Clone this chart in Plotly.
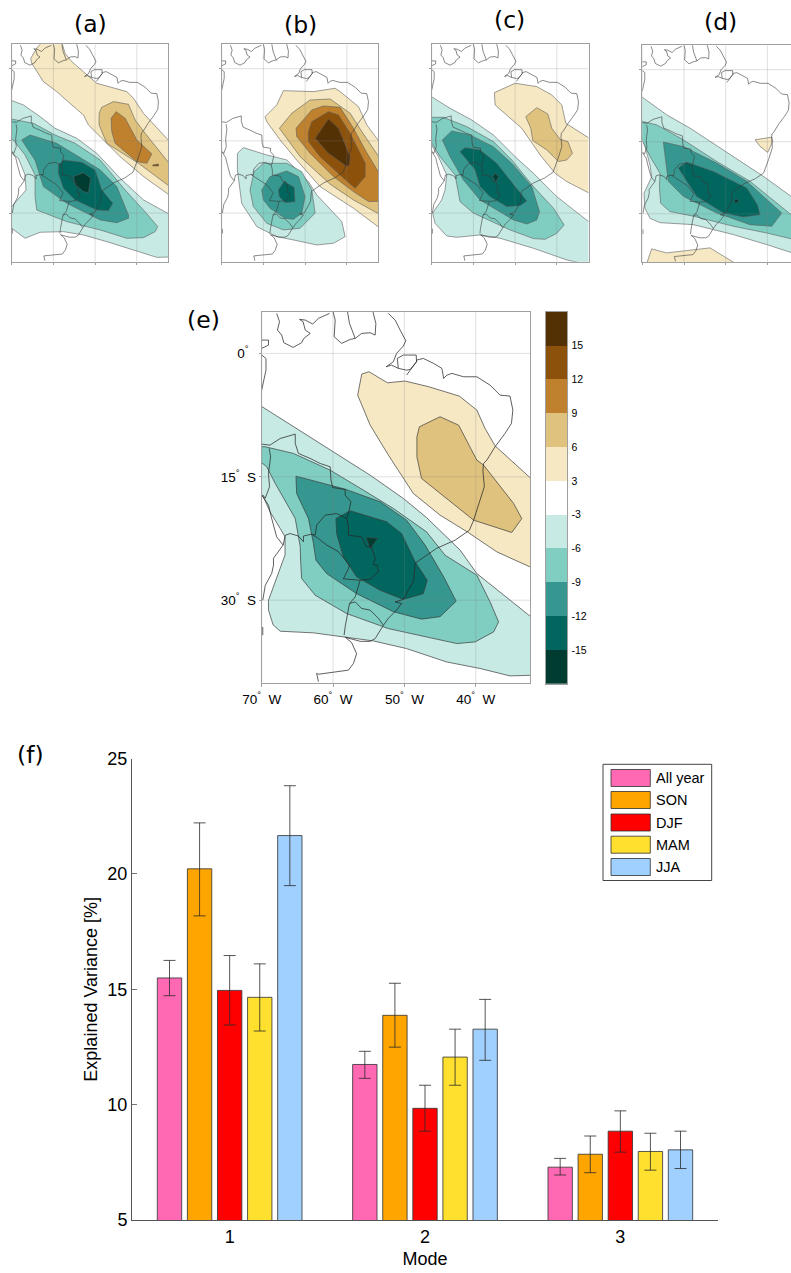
import plotly.graph_objects as go

FIG_W, FIG_H = 791, 1273

# ---- bar chart data
MODES = [1, 2, 3]
SEASONS = ["All year", "SON", "DJF", "MAM", "JJA"]
SEASON_COLORS = ["#ff69b4", "#ffa500", "#ff0000", "#ffe02e", "#a0d0ff"]
ALL_YEAR = [15.49, 11.74, 7.29]
ALL_YEAR_HI = [16.25, 12.31, 7.67]
ALL_YEAR_LO = [14.72, 11.14, 6.95]
SON = [20.22, 13.87, 7.85]
SON_HI = [22.21, 15.26, 8.64]
SON_LO = [18.18, 12.49, 7.05]
DJF = [14.95, 9.84, 8.85]
DJF_HI = [16.46, 10.84, 9.73]
DJF_LO = [13.45, 8.85, 7.94]
MAM = [14.65, 12.06, 7.97]
MAM_HI = [16.1, 13.27, 8.76]
MAM_LO = [13.19, 10.84, 7.16]
JJA = [21.66, 13.27, 8.04]
JJA_HI = [23.82, 14.56, 8.85]
JJA_LO = [19.49, 11.92, 7.23]

# ---- colour classes
LEVEL_COLORS = {15: "#543005", 12: "#8c510a", 9: "#bf812d", 6: "#dfc27d", 3: "#f6e8c3",
                -3: "#c7eae5", -6: "#80cdc1", -9: "#35978f", -12: "#01665e", -15: "#003c30"}
CBAR_COLORS = ["#003c30", "#01665e", "#35978f", "#80cdc1", "#c7eae5", "#ffffff",
               "#f6e8c3", "#dfc27d", "#bf812d", "#8c510a", "#543005"]
CBAR_TICKS = ["-15", "-12", "-9", "-6", "-3", "3", "6", "9", "12", "15"]

GRID_LON = [-70, -60, -50, -40]
GRID_LAT = [0, -15, -30]
LON_LABELS = ["70<sup>°</sup>  W", "60<sup>°</sup>  W", "50<sup>°</sup>  W", "40<sup>°</sup>  W"]
LAT_LABELS = ["0<sup>°</sup>  ", "15<sup>°</sup>  S", "30<sup>°</sup>  S"]

# ---- coast and borders (lon, lat)
COAST_N1 = [(-67.9,4.86),(-67.5,3.85),(-67.8,2.84),(-67.2,2.23),(-66.9,1.3),(-65.6,.73),(-64.4,1.3),(-64.1,1.82),(-63.2,2.43),(-63.9,2.84),(-64.2,3.85),(-64.7,4.14),(-63.9,4.05),(-62.85,3.57),(-62.05,4.26),(-60.5,4.86)]
COAST_N2 = [(-60.05,5.2),(-59.7,4.05),(-59.85,2.03),(-58.8,1.22),(-57.6,1.7),(-56.9,1.82),(-56,2.43),(-54.8,2.51),(-54.1,2.23),(-54,3.65),(-54.45,5.2)]
COAST_N3 = [(-58,5.2),(-57.7,3.65),(-56.9,1.82)]
COAST_MAIN = [(-52.25,4.86),(-51.3,4.05),(-50.6,2.84),(-49.8,1.54),(-50.15,.89),(-51.1,0),(-51.55,-1.01),(-52.55,-1.62),(-51.8,-1.42),(-50.85,-1.82),(-49.7,-2.03),(-49.2,-1.95),(-48.3,-1.01),(-48.3,-.81),(-47.35,-.61),(-45.9,-1.22),(-44.75,-1.82),(-44.5,-3.04),(-44.05,-2.64),(-43.35,-2.43),(-41.7,-2.84),(-39.85,-2.84),(-38,-3.85),(-36.6,-5.07),(-35.2,-5.19),(-34.8,-6.89),(-35,-8.51),(-35.9,-9.73),(-37.3,-11.35),(-38.45,-12.97),(-38.9,-13.38),(-39,-14.19),(-38.8,-16.2),(-39.7,-18.65),(-40.3,-20.27),(-40.9,-21.5),(-42.9,-22.7),(-45.5,-23.7),(-48.5,-25.5),(-48.7,-27.6),(-49.7,-29.2),(-50.15,-29.9),(-51.3,-30.2),(-50.4,-30.4),(-51.1,-31.2),(-52.25,-32.2),(-52.95,-33.05),(-54.1,-34.66),(-54.8,-35),(-56.2,-35),(-58.3,-34.5),(-57.4,-35.15),(-56.7,-36.5),(-57.15,-37.7),(-57.85,-38.5),(-62.05,-39),(-62.3,-38.9),(-62.05,-39.9)]
COAST_DELTA = [(-50.85,-1.82),(-51,-.61),(-50.15,-.2),(-48.35,-.2),(-48.3,-1.01),(-49.7,-2.64)]
COAST_WEST = [(-70,-17.2),(-69.05,-18.45),(-68.6,-20.07),(-67.9,-22.3),(-67,-23.3),(-68.35,-24.9),(-68.35,-25.75),(-68.6,-26.75),(-69.5,-28.2),(-69.85,-30)]
COAST_BIT1 = [(-69.85,-33.25),(-69.85,-34.25)]
COAST_BIT2 = [(-70,1.62),(-69.05,1.62),(-69.05,1.01),(-70,.61)]
COAST_BIT3 = [(-70,-.2),(-69.4,-.61),(-69.4,-2.03),(-70,-4.46)]
BORDER_BRAZIL = [(-70,-11.03),(-68.85,-11.15),(-67.4,-10.34),(-65.3,-9.81),(-65.3,-10.95),(-64.85,-12.16),(-63.2,-12.77),(-61.8,-13.38),(-60.4,-13.78),(-60.3,-15.4),(-60.05,-16.3),(-58.3,-16.54),(-58.3,-17.23),(-57.5,-18.04),(-57.85,-19.46),(-58.1,-20.07),(-57.85,-21.08),(-57.85,-22.1),(-56,-22.3),(-55.3,-23.5),(-54.6,-23.5),(-54.1,-24.9),(-54.35,-25.66),(-53.8,-25.74),(-53.65,-26.55),(-54.8,-27.45),(-56.2,-27.57),(-56.9,-29.6),(-57.7,-30.4),(-58,-31.6),(-58.3,-33.2),(-58.45,-34.25)]
BORDER_PERU = [(-68.95,-11.55),(-68.75,-12.57),(-69.05,-14.6),(-68.9,-16.2),(-69.5,-17.6),(-69.85,-17.2)]
BORDER_ANDES = [(-67,-23.3),(-66.7,-22.1),(-66,-21.9),(-64.85,-22.2),(-64.15,-22.9),(-64.15,-22.2),(-63,-21.97),(-62.05,-22.5),(-60.9,-23.3),(-59.25,-24.1),(-58.55,-24.85),(-57.7,-25.74),(-57.85,-26.15),(-58.55,-27.4),(-56.2,-27.57)]
BORDER_PARAGUAY = [(-58.1,-20.07),(-59.5,-19.46),(-61.1,-19.66),(-62.3,-20.87),(-62.5,-22.1),(-63,-21.97)]
BORDER_URUGUAY = [(-57.7,-30.4),(-56.9,-30.2),(-56,-31),(-54.8,-31.2),(-53.65,-32.2),(-52.95,-33.05)]

# ---- panel (a) contours (lon, lat)
A_P3 = [(-65.44,2.16),(-64,4.24),(-62.8,5.5),(-58,5.5),(-57.2,3.2),(-55.6,1.47),(-49.6,-3.03),(-42.4,-4.76),(-40.8,-6.15),(-38.4,-9.26),(-31,-16.2),(-31,-27),(-38.4,-22.4),(-44,-18.27),(-51.6,-11.69),(-52.8,-9.61),(-55.6,-7.53),(-59.2,-4.76),(-62.4,-2.69),(-65.2,1.12)]
A_P6 = [(-48.4,-8.02),(-45.6,-6.84),(-42,-7.4),(-40.4,-10.65),(-38,-13.42),(-31,-21),(-31,-25.2),(-39.6,-19.65),(-47.2,-15.5),(-49.04,-11.69),(-49.04,-9.26)]
A_P9 = [(-46.16,-10.3),(-44.96,-8.92),(-42.8,-10.3),(-40,-14.8),(-36.4,-17.7),(-37.6,-19.65),(-40,-19.3),(-45.2,-15.5),(-46,-13.07)]
A_P12 = [(-36.16,-20),(-34.8,-19.8),(-34.8,-20.2),(-36.16,-20.2)]
A_N3 = [(-71,-6.3),(-67.2,-7.53),(-63.2,-9.95),(-59.6,-12.38),(-54.4,-14.46),(-49.6,-17.57),(-44,-22.77),(-38.4,-27.27),(-31,-30.8),(-31,-39.1),(-35.2,-39.2),(-40.8,-37.66),(-47.2,-35.93),(-52.8,-34.54),(-57.6,-33.85),(-63.2,-33.99),(-66.8,-35.23),(-71,-32.5),(-71,-28),(-70,-28.65),(-66.56,-25.2),(-66.8,-22.08),(-68.4,-18.6),(-71,-17)]
A_N6 = [(-71,-10.3),(-64.8,-11.34),(-59.6,-13.77),(-54.8,-15.5),(-48.8,-18.96),(-42.8,-25.2),(-38.4,-29.35),(-35,-32.8),(-35.6,-33.85),(-38.4,-35.1),(-42.4,-35.23),(-48.8,-33.5),(-56.8,-31.77),(-64,-29.35),(-64.4,-26.58),(-64.4,-22.08),(-66.8,-17.92),(-69.6,-14.8),(-71,-13.8)]
A_N9 = [(-67.6,-14.8),(-65.6,-13.77),(-59.2,-15.5),(-54,-18.27),(-48.8,-21),(-44.8,-24.5),(-42,-30.4),(-42,-31.08),(-44.8,-32),(-48.8,-31.42),(-56.8,-27.96),(-62.4,-24.5),(-63.2,-22.08),(-64.4,-19)]
A_N12 = [(-58.8,-20),(-57.6,-18.96),(-53.2,-19.44),(-50,-21.04),(-48.4,-25.2),(-45.76,-27.96),(-46.8,-29.5),(-49.6,-29.35),(-54.8,-27.27),(-57.6,-24.85),(-58.8,-21.73)]
A_N15 = [(-55.2,-22.42),(-52.8,-21.6),(-51.04,-22.77),(-51.6,-25.75),(-52.8,-25.54),(-54.8,-24.04)]

# ---- panel (b)
B_P3 = [(-59.6,-9.96),(-56.8,-7.53),(-55.2,-4.56),(-48,-4.76),(-42.8,-4.07),(-41.6,-4.76),(-37.2,-7.88),(-35.2,-11.69),(-31,-16.6),(-31,-33.8),(-38.4,-29),(-46.4,-24.5),(-52,-19),(-56,-14.8),(-59.2,-11)]
B_P6 = [(-56.16,-12.38),(-53.2,-9.26),(-48.8,-6.5),(-44,-6.29),(-39.2,-9.26),(-36.4,-13.07),(-31,-20),(-31,-30.8),(-38.4,-27.27),(-44,-24),(-51.2,-18.27)]
B_P9 = [(-52.16,-12.38),(-48.4,-8.57),(-45.6,-7.74),(-41.6,-8.02),(-38.4,-12.38),(-35.6,-16.88),(-31,-23.5),(-31,-27.5),(-34.8,-27.6),(-38.4,-25.54),(-43.2,-22.42),(-48.8,-17.57),(-52,-14.11)]
B_P12 = [(-49.2,-13.07),(-48.4,-11),(-44.4,-8.92),(-42,-9.61),(-39.2,-13.42),(-35.6,-19.65),(-35.6,-22.42),(-38,-24.85),(-41.2,-22.42),(-46.4,-18.27),(-49.2,-15.15)]
B_P15 = [(-47.6,-14.46),(-44.4,-10.44),(-42,-12.38),(-39.2,-18.27),(-39.36,-20),(-40,-20.34),(-44.4,-17.57)]
B_N3 = [(-66.24,-17.57),(-64.8,-16.4),(-59.2,-17.92),(-54.4,-18.96),(-49.2,-23.46),(-47.2,-26.23),(-41.2,-31.77),(-40.4,-34.89),(-43.2,-36.27),(-47.2,-36.62),(-52.8,-35.58),(-56.8,-34.89),(-61.6,-32.8),(-65.2,-28),(-66.24,-21.04)]
B_N6 = [(-62.24,-21.4),(-60,-19.65),(-54.4,-19.65),(-50.8,-21.4),(-48.4,-25.2),(-47.6,-30),(-51.2,-33.15),(-55.2,-33.5),(-59.2,-32.12),(-62.4,-28.65),(-63.2,-25.2)]
B_N9 = [(-60.4,-25.2),(-58.4,-22.42),(-54.4,-21.24),(-51.6,-22.42),(-50,-26.58),(-50.8,-30),(-52.8,-31.3),(-54.8,-31.08),(-58.4,-29),(-60,-27.27)]
B_N12 = [(-56.4,-25.2),(-55.04,-23.46),(-52.64,-24.64),(-52.4,-27.62),(-54.8,-27.83),(-56.16,-26.58)]

# ---- panel (c)
C_P3 = [(-54.96,-4.97),(-50,-3.03),(-44.8,-3.72),(-41.2,-5.46),(-38.8,-7.53),(-37.84,-11.34),(-31,-15.1),(-31,-26.4),(-37.6,-23.46),(-40.4,-21.73),(-44,-17.92),(-48.4,-12.38),(-54.8,-7.53)]
C_P6 = [(-47.44,-9.96),(-44.8,-8.09),(-42.16,-9.4),(-41.2,-12.38),(-39.2,-14.67),(-37.36,-15.15),(-36.24,-17.57),(-37.6,-18.96),(-39.6,-19.3),(-42.4,-16.88),(-45.76,-14.94),(-46.24,-12.38)]
C_N3 = [(-71,-5.3),(-65.6,-8.23),(-60.4,-10.65),(-55.2,-13.77),(-50,-18.27),(-45.6,-21.73),(-40,-26.58),(-31,-32.7),(-31,-41),(-37.6,-39.73),(-45.6,-37.31),(-53.6,-35.23),(-58.4,-34.54),(-64,-35.03),(-66.4,-34.75),(-69.2,-32.12),(-69.76,-30),(-67.6,-27.27),(-66.8,-25.2),(-66.4,-22.08),(-68.4,-18.27),(-71,-14.4)]
C_N6 = [(-71,-10.1),(-67.2,-10.1),(-61.6,-12.03),(-55.2,-15.15),(-50.8,-18.96),(-45.6,-24.5),(-40.8,-29),(-38.24,-32.46),(-40,-34.2),(-42.8,-35.44),(-45.6,-35.3),(-51.2,-33.5),(-60,-30),(-63.2,-27.62),(-64.4,-22.08),(-68,-18.27),(-71,-14)]
C_N9 = [(-67.44,-14.8),(-65.2,-12.94),(-60.8,-13.77),(-55.2,-16.2),(-50.4,-20),(-46,-24.5),(-44.16,-29.69),(-44.8,-31.42),(-47.2,-32.26),(-50.4,-31.42),(-58.4,-27.27),(-62.4,-23.1),(-65.6,-18.27)]
C_N12 = [(-63.2,-17.23),(-62,-16.4),(-58.4,-16.88),(-54.4,-19.65),(-50,-24.5),(-47.2,-27.48),(-48.8,-28.45),(-52,-28.65),(-56,-26.58),(-58.4,-24.5),(-59.6,-21),(-62,-18.6)]
C_N15 = [(-55.36,-22.42),(-54.8,-21.73),(-53.92,-22.42),(-54.64,-23.6)]

# ---- panel (d)
D_P3A = [(-42.96,-14.6),(-38.96,-14.04),(-38.72,-14.94),(-39.92,-17.23),(-41.76,-15.98)]
D_P3B = [(-69.2,-41),(-67.76,-37.31),(-64.16,-38.14),(-56.16,-37.31),(-53.76,-37.1),(-46.4,-41)]
D_N3 = [(-71,-5.1),(-64.16,-9.4),(-58.56,-12.17),(-48.16,-18.06),(-40.96,-22.21),(-34.32,-26.37),(-31,-28.8),(-31,-39),(-40.16,-36.41),(-48.16,-34.33),(-57.76,-32.26),(-65.75,-31.85),(-68.15,-30.95),(-69.35,-28.85),(-69.6,-25.75),(-67.75,-22.3),(-68.15,-19.85),(-69.9,-14.3),(-71,-13)]
D_N6 = [(-71,-10.3),(-70,-10.79),(-66.56,-11.48),(-60.16,-14.6),(-52.16,-19.1),(-44.16,-23.25),(-34.32,-30.18),(-31,-32.5),(-31,-35.9),(-40.16,-34),(-48.16,-32.6),(-57.76,-30.5),(-63.35,-29.55),(-65.6,-27.8),(-65.9,-24.4),(-65.75,-21.6),(-68.16,-18.06),(-71,-13)]
D_N9 = [(-64.96,-15.08),(-60.16,-16),(-52.16,-19.44),(-44.96,-23.25),(-36.56,-29.83),(-38.96,-32.6),(-44.16,-32.26),(-52.16,-29.83),(-60.16,-26.37),(-63.76,-23.25)]
D_N12 = [(-61.36,-20.48),(-59.36,-19.24),(-52.96,-21.18),(-44.96,-24.64),(-42.4,-28.1),(-41.76,-30.18),(-45.76,-30.66),(-50.56,-29.83),(-57,-26.37),(-60.16,-22.21)]
D_N15 = [(-48.16,-27.34),(-47.36,-26.92),(-46.72,-27.34),(-47.52,-27.82)]

# ---- panel (e)
E_P3 = [(-55.98,-2.51),(-54.95,-2.23),(-52.38,-3.57),(-49.9,-3.36),(-46.6,-4.05),(-42.3,-5.19),(-39.85,-6.89),(-38.7,-9.12),(-37.3,-11.23),(-31,-16.2),(-31,-26.5),(-37.05,-24.12),(-41.2,-21.69),(-45,-19.66),(-48.75,-17.03),(-52.25,-12.36),(-54.8,-8.72),(-56.55,-5.07)]
E_P6 = [(-47.9,-8.92),(-45,-7.7),(-42.4,-8.72),(-40.8,-11.35),(-39.85,-12.97),(-38.9,-13.58),(-34.7,-18.24),(-33.55,-20.07),(-34.95,-21.77),(-40.3,-20.27),(-47.6,-15.2),(-48.25,-12.57),(-48.25,-10.14)]
E_N3 = [(-71,-5.9),(-64.85,-9.32),(-59.95,-11.96),(-54.8,-14.8),(-50.15,-17.63),(-46.9,-19.95),(-42.2,-23.9),(-39.85,-26.76),(-31,-32.9),(-31,-39.1),(-35.2,-39.2),(-39.4,-38.3),(-44.1,-37.5),(-49.7,-35.88),(-54.35,-34.95),(-58.55,-34.46),(-62.75,-33.97),(-67.4,-33.77),(-68.4,-33),(-69.05,-31.2),(-69.05,-30),(-66.73,-24.5),(-66.73,-22.3),(-67.4,-21.3),(-68.83,-19.26),(-69.77,-17.43),(-71,-16.6)]
E_N6 = [(-71,-11.35),(-69.5,-11.35),(-65.55,-12.16),(-60.4,-14.19),(-55.75,-16.62),(-51.55,-18.85),(-46.9,-21.69),(-44.3,-24.53),(-39.85,-26.96),(-38,-30.2),(-36.8,-32.63),(-37.5,-33.85),(-40.1,-35.07),(-42.65,-35.27),(-52.25,-33.45),(-58.1,-31.62),(-62.5,-29.4),(-64.4,-27.36),(-64.55,-25.13),(-64.6,-23.5),(-65.3,-20.07),(-68.1,-15.81),(-69.3,-13.78),(-71,-12.6)]
E_N9 = [(-65.2,-14.92),(-58.3,-16.5),(-53.4,-18.04),(-49.7,-20.27),(-47.1,-23.3),(-44.5,-27.16),(-42.75,-30.12),(-45,-32),(-47.6,-32.3),(-51.55,-31.4),(-56.7,-29.2),(-60.9,-26.76),(-62.4,-25.13),(-62.75,-23.1),(-63.45,-20.07),(-65.1,-17.03)]
E_N12 = [(-59.6,-20.07),(-57.6,-19.13),(-52.5,-20.47),(-50.4,-21.9),(-48.5,-25.34),(-46.8,-27.57),(-47.35,-29.2),(-50.15,-29.9),(-53.4,-28.8),(-56.7,-27.16),(-58.55,-24.73),(-59.5,-21.9)]
E_N15 = [(-55.3,-22.4),(-53.8,-22.5),(-54.8,-23.7)]

COAST_LINES = [COAST_N1, COAST_N2, COAST_N3, COAST_MAIN, COAST_DELTA, COAST_WEST, COAST_BIT1, COAST_BIT2,
               COAST_BIT3, BORDER_BRAZIL, BORDER_PERU, BORDER_ANDES, BORDER_PARAGUAY, BORDER_URUGUAY]

LON_MIN, LON_MAX, LAT_MIN, LAT_MAX = -70.0, -32.4, -40.1, 5.07
PANEL_W = 156.8

panels = [
    dict(n=1, left=11.7, top=44.3, bottom=261.7, right=168.3,
         polys=[(3, A_P3), (6, A_P6), (9, A_P9), (12, A_P12), (-3, A_N3), (-6, A_N6), (-9, A_N9), (-12, A_N12), (-15, A_N15)]),
    dict(n=2, left=221.7, top=44.3, bottom=261.7, right=378.3,
         polys=[(3, B_P3), (6, B_P6), (9, B_P9), (12, B_P12), (15, B_P15), (-3, B_N3), (-6, B_N6), (-9, B_N9), (-12, B_N12)]),
    dict(n=3, left=431.7, top=44.3, bottom=261.7, right=588.5,
         polys=[(3, C_P3), (6, C_P6), (-3, C_N3), (-6, C_N6), (-9, C_N9), (-12, C_N12), (-15, C_N15)]),
    dict(n=4, left=642.3, top=45.3, bottom=262.3, right=791,
         polys=[(3, D_P3A), (3, D_P3B), (-3, D_N3), (-6, D_N6), (-9, D_N9), (-12, D_N12), (-15, D_N15)]),
    dict(n=5, left=261.7, top=311.7, bottom=683.3, right=530,
         polys=[(3, E_P3), (6, E_P6), (-3, E_N3), (-6, E_N6), (-9, E_N9), (-12, E_N12), (-15, E_N15)]),
]


def xd(a, b):
    return [a / FIG_W, b / FIG_W]


def yd(top, bottom):
    return [1 - bottom / FIG_H, 1 - top / FIG_H]


fig = go.Figure()
layout = dict(width=FIG_W, height=FIG_H, margin=dict(l=0, r=0, t=0, b=0, autoexpand=False), autosize=False,
              paper_bgcolor="white", plot_bgcolor="white", showlegend=False,
              font=dict(family="Liberation Sans", color="black"))

# maps
for p in panels:
    n = p["n"]
    xa, ya = f"x{n}", f"y{n}"
    big = n == 5
    edge = "#3c3c3c" if big else "#5e5e5e"
    for level, poly in p["polys"]:
        fig.add_trace(go.Scatter(x=[q[0] for q in poly] + [poly[0][0]], y=[q[1] for q in poly] + [poly[0][1]],
                                 mode="lines", fill="toself", fillcolor=LEVEL_COLORS[level],
                                 line=dict(color=edge, width=0.7 if big else 0.6), xaxis=xa, yaxis=ya, hoverinfo="skip"))
    gx, gy = [], []
    for lon in GRID_LON:
        gx += [lon, lon, None]
        gy += [LAT_MIN, LAT_MAX, None]
    for lat in GRID_LAT:
        gx += [LON_MIN, LON_MAX, None]
        gy += [lat, lat, None]
    fig.add_trace(go.Scatter(x=gx, y=gy, mode="lines", line=dict(color="rgba(130,130,130,0.25)", width=1),
                             xaxis=xa, yaxis=ya, hoverinfo="skip"))
    cx, cy = [], []
    for seg in COAST_LINES:
        cx += [q[0] for q in seg] + [None]
        cy += [q[1] for q in seg] + [None]
    fig.add_trace(go.Scatter(x=cx, y=cy, mode="lines",
                             line=dict(color="#2a2a2a" if big else "#3a3a3a", width=0.75 if big else 0.6),
                             xaxis=xa, yaxis=ya, hoverinfo="skip"))
    right_lon = LON_MIN + (p["right"] - p["left"]) / ((530 - 261.7) if big else PANEL_W) * (LON_MAX - LON_MIN)
    axis_name = "" if n == 1 else str(n)
    layout[f"xaxis{axis_name}"] = dict(
        domain=xd(p["left"], p["right"]), range=[LON_MIN, right_lon], anchor=ya, showgrid=False, zeroline=False,
        showline=True, mirror=True, linecolor="#a0a0a0", linewidth=1, ticks="outside", ticklen=3 if big else 2,
        tickcolor="#a0a0a0", tickvals=GRID_LON, ticktext=LON_LABELS if big else None,
        showticklabels=big, tickfont=dict(size=13.5, family="Liberation Sans"))
    layout[f"yaxis{axis_name}"] = dict(
        domain=yd(p["top"], p["bottom"]), range=[LAT_MIN, LAT_MAX], anchor=xa, showgrid=False, zeroline=False,
        showline=True, mirror=n != 4, linecolor="#a0a0a0", linewidth=1, ticks="outside", ticklen=2,
        tickcolor="#a0a0a0", tickvals=GRID_LAT, ticktext=LAT_LABELS if big else None,
        showticklabels=big, tickfont=dict(size=13.5, family="Liberation Sans"))

# colour bar
n_c = len(CBAR_COLORS)
fig.add_trace(go.Heatmap(
    z=[[i] for i in range(n_c)], x=[0], y=[i + 0.5 for i in range(n_c)], zmin=-0.5, zmax=n_c - 0.5, showscale=False,
    colorscale=[[v, CBAR_COLORS[i]] for i in range(n_c) for v in (i / n_c, (i + 1) / n_c)],
    xaxis="x6", yaxis="y6", hoverinfo="skip"))
layout["xaxis6"] = dict(domain=xd(546, 567.3), anchor="y6", showticklabels=False, ticks="", showgrid=False,
                        zeroline=False, showline=True, mirror=True, linecolor="#a0a0a0", linewidth=1)
layout["yaxis6"] = dict(domain=yd(311.7, 684), range=[0, n_c], anchor="x6", side="right", showgrid=False,
                        zeroline=False, showline=True, mirror=True, linecolor="#a0a0a0", linewidth=1,
                        tickvals=list(range(1, n_c)), ticktext=CBAR_TICKS, ticks="", ticklabelstandoff=1,
                        tickfont=dict(size=10.5, family="Liberation Sans"))

# bars
series = [(ALL_YEAR, ALL_YEAR_HI, ALL_YEAR_LO), (SON, SON_HI, SON_LO), (DJF, DJF_HI, DJF_LO),
          (MAM, MAM_HI, MAM_LO), (JJA, JJA_HI, JJA_LO)]
for name, color, (val, hi, lo) in zip(SEASONS, SEASON_COLORS, series):
    fig.add_trace(go.Bar(
        x=MODES, y=val, name=name, marker=dict(color=color, line=dict(color="#303030", width=0.8)),
        error_y=dict(type="data", symmetric=False, array=[h - v for h, v in zip(hi, val)],
                     arrayminus=[v - l for v, l in zip(val, lo)], color="#2a2a2a", thickness=0.8, width=6),
        xaxis="x7", yaxis="y7", hoverinfo="skip"))
layout.update(barmode="group", bargap=0.23, bargroupgap=0.19)
layout["xaxis7"] = dict(domain=xd(132, 718), range=[0.5, 3.5], anchor="y7", tickvals=MODES, ticks="", showgrid=False,
                        zeroline=False, showline=True, linecolor="#555555", linewidth=1,
                        tickfont=dict(size=18, family="Liberation Sans"),
                        title=dict(text="Mode", font=dict(size=18, family="Liberation Sans"), standoff=6))
layout["yaxis7"] = dict(domain=yd(758.5, 1220), range=[5, 25], anchor="x7", tickvals=[5, 10, 15, 20, 25], ticks="inside",
                        ticklen=5, tickcolor="#777777", showgrid=False, zeroline=False, showline=True,
                        linecolor="#555555", linewidth=1, tickfont=dict(size=18, family="Liberation Sans"),
                        title=dict(text="Explained Variance [%]", font=dict(size=18, family="Liberation Sans"), standoff=5))

# legend box, drawn to keep the reference's wide swatches
shapes = [dict(type="rect", xref="paper", yref="paper", x0=603 / FIG_W, x1=711.7 / FIG_W,
               y0=1 - 880.5 / FIG_H, y1=1 - 764.3 / FIG_H, line=dict(color="#444444", width=1), fillcolor="white")]
annotations = []
LEGEND_ROWS = [778, 800, 822.5, 844.7, 867]
for name, color, row in zip(SEASONS, SEASON_COLORS, LEGEND_ROWS):
    shapes.append(dict(type="rect", xref="paper", yref="paper", x0=611 / FIG_W, x1=650.3 / FIG_W,
                       y0=1 - (row + 8.5) / FIG_H, y1=1 - (row - 8.5) / FIG_H, fillcolor=color,
                       line=dict(color="#303030", width=0.8)))
    annotations.append(dict(text=name, xref="paper", yref="paper", x=654 / FIG_W, y=1 - row / FIG_H, xanchor="left",
                            yanchor="middle", showarrow=False, font=dict(size=14.5, family="Liberation Sans")))

PANEL_TAGS = ["(a)", "(b)", "(c)", "(d)", "(e)", "(f)"]
TAG_X = [90, 300, 509, 720, 203, 30]
TAG_Y = [24, 25, 20, 22, 320, 755]
for tag, tx, ty in zip(PANEL_TAGS, TAG_X, TAG_Y):
    annotations.append(dict(text=tag, xref="paper", yref="paper", x=tx / FIG_W, y=1 - ty / FIG_H, xanchor="center",
                            yanchor="middle", showarrow=False, font=dict(size=23.5, family="DejaVu Sans")))

layout["shapes"] = shapes
layout["annotations"] = annotations
fig.update_layout(**layout)
fig.write_html("out.html", config={"displayModeBar": False}, post_script="document.body.style.margin='0';")
